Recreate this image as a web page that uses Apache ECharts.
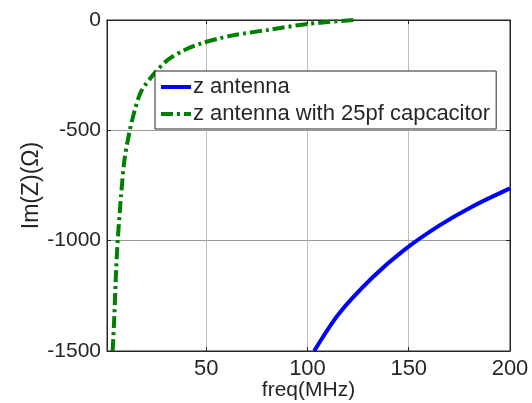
<!DOCTYPE html>
<html>
<head>
<meta charset="utf-8">
<script src="https://cdn.jsdelivr.net/npm/echarts@6/dist/echarts.min.js"></script>
<style>html,body{margin:0;padding:0;background:#fff}#c{width:532px;height:403px}</style>
</head>
<body>
<div id="c"></div>
<script>
const seriesNames = ['z antenna', 'z antenna with 25pf capcacitor'];
const freqBlue = [103.3, 115.6, 132.2, 147.5, 165, 181, 200];
const imBlue = [-1500, -1330, -1166, -1044, -932, -847, -763];
const freqGreen = [3.8, 4.6, 5.5, 6.3, 7.9, 9.6, 12.1, 14.5, 17.8, 24.4, 31.0, 39.3, 47.5, 56.6, 64, 80.5, 100, 123];
const imGreen = [-1500, -1345, -1134, -998, -801, -635, -507, -416, -325, -242, -181, -136, -106, -83, -68, -45, -18, 0];
const xTicks = [50, 100, 150, 200];
const yMin = -1500, yMax = 0, yStep = 500;
const xMin = 1, xMax = 200;

const font = 'Liberation Sans, Arial, Helvetica, sans-serif';
const axisColor = '#262626';
const chart = echarts.init(document.getElementById('c'));
const pairs = (xs, ys) => xs.map((x, i) => [x, ys[i]]);

chart.setOption({
  animation: false,
  backgroundColor: '#fff',
  grid: { left: 107, right: 22, top: 20, bottom: 52, outerBoundsMode: 'none', containLabel: false, show: true, borderColor: axisColor, borderWidth: 1, backgroundColor: 'transparent' },
  legend: {
    left: 155, top: 71, orient: 'vertical',
    backgroundColor: '#fff', borderColor: axisColor, borderWidth: 1,
    padding: [5, 6, 4, 4], itemGap: 5, itemWidth: 30, itemHeight: 14,
    itemStyle: { opacity: 0 },
    lineStyle: { width: 4 },
    textStyle: { fontFamily: font, fontSize: 22, color: axisColor, padding: [0, 0, 0, -3] },
    data: seriesNames
  },
  xAxis: [{
    type: 'value', min: xMin, max: xMax,
    name: 'freq(MHz)', nameLocation: 'middle', nameGap: 29, nameMoveOverlap: false,
    nameTextStyle: { fontFamily: font, fontSize: 21, color: axisColor },
    axisLine: { show: true, onZero: false, lineStyle: { color: axisColor, width: 1 } },
    axisTick: { show: true, inside: true, length: 4, customValues: xTicks, lineStyle: { color: axisColor } },
    axisLabel: { customValues: xTicks, fontFamily: font, fontSize: 22, color: axisColor, margin: 7, formatter: v => String(v) },
    splitLine: { show: true, lineStyle: { color: '#bcbcbc', width: 1 } }
  }, {
    type: 'value', min: xMin, max: xMax, position: 'top',
    axisLine: { show: true, onZero: false, lineStyle: { color: axisColor } },
    axisTick: { show: true, inside: true, length: 4, customValues: xTicks, lineStyle: { color: axisColor } },
    axisLabel: { show: false, customValues: xTicks },
    splitLine: { show: false }
  }],
  yAxis: [{
    type: 'value', min: yMin, max: yMax, interval: yStep,
    name: 'Im(Z)(Ω)', nameLocation: 'middle', nameGap: 64, nameMoveOverlap: false,
    nameTextStyle: { fontFamily: font, fontSize: 23, color: axisColor },
    axisLine: { show: true, onZero: false, lineStyle: { color: axisColor, width: 1 } },
    axisTick: { show: true, inside: true, length: 4, lineStyle: { color: axisColor } },
    axisLabel: { fontFamily: font, fontSize: 21, color: axisColor, margin: 6, formatter: v => String(v) },
    splitLine: { show: true, lineStyle: { color: '#9a9a9a', width: 1 } }
  }, {
    type: 'value', min: yMin, max: yMax, interval: yStep, position: 'right',
    axisLine: { show: true, onZero: false, lineStyle: { color: axisColor } },
    axisTick: { show: true, inside: true, length: 4, lineStyle: { color: axisColor } },
    axisLabel: { show: false },
    splitLine: { show: false }
  }],
  series: [{
    name: seriesNames[0], type: 'line', data: pairs(freqBlue, imBlue),
    symbol: 'none', smooth: 0.3, clip: true,
    lineStyle: { color: '#0000ff', width: 4 }, itemStyle: { color: '#0000ff' }
  }, {
    name: seriesNames[1], type: 'line', data: pairs(freqGreen, imGreen),
    symbol: 'none', smooth: 0.3, clip: true,
    lineStyle: { color: '#008000', width: 4, type: [12, 4, 3, 4] }, itemStyle: { color: '#008000' }
  }]
});
</script>
</body>
</html>
